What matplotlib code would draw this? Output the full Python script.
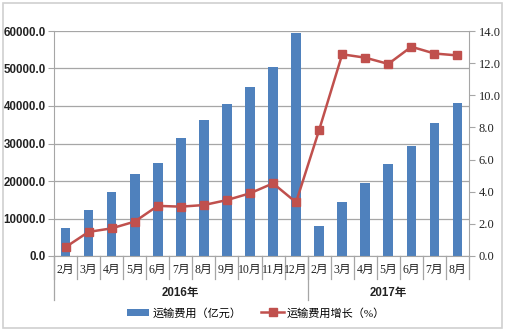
import matplotlib
matplotlib.use("Agg")
import matplotlib.pyplot as plt
import matplotlib.transforms as mtransforms
from matplotlib.patches import Rectangle
from matplotlib.ticker import FormatStrFormatter

months = ["2月", "3月", "4月", "5月", "6月", "7月", "8月", "9月", "10月", "11月", "12月",
          "2月", "3月", "4月", "5月", "6月", "7月", "8月"]
years = ["2016年", "2017年"]
year_sizes = [11, 7]

# 运输费用（亿元）
cost = [7450, 12250, 17050, 21800, 24900, 31450, 36250, 40450, 45150, 50300, 59500,
        8000, 14300, 19550, 24500, 29350, 35400, 40700]
# 运输费用增长（%）
growth = [0.55, 1.5, 1.72, 2.14, 3.12, 3.07, 3.17, 3.48, 3.9, 4.52, 3.34,
          7.84, 12.55, 12.34, 11.95, 13.02, 12.6, 12.48]

cjk = ["Liberation Serif", "Noto Sans CJK SC"]
blue = "#4F81BD"
red = "#C0504D"
gray = "#A6A6A6"

fig = plt.figure(figsize=(5.07, 3.33), dpi=100)
ax = fig.add_axes([54 / 507, 1 - 256 / 333, 415 / 507, 225 / 333])
ax2 = ax.twinx()

x = list(range(len(cost)))
bars = ax.bar(x, cost, width=0.42, color=blue, zorder=2, label="运输费用（亿元）")
line, = ax2.plot(x, growth, color=red, lw=1.8, marker="s", markersize=6,
                 zorder=3, label="运输费用增长（%）")

ax.set_xlim(-0.5, len(cost) - 0.5)
ax.set_ylim(0, 60000)
ax.set_yticks(range(0, 60001, 10000))
ax2.set_ylim(0, 14)
ax2.set_yticks(range(0, 15, 2))
ax.yaxis.set_major_formatter(FormatStrFormatter("%.1f"))
ax2.yaxis.set_major_formatter(FormatStrFormatter("%.1f"))
ax.grid(axis="y", color=gray, lw=0.9, zorder=0)
ax.set_axisbelow(True)

for a in (ax, ax2):
    a.spines["top"].set_visible(False)
    a.spines["bottom"].set_color(gray)
    a.spines["left"].set_color(gray)
    a.spines["right"].set_color(gray)
ax.spines["right"].set_visible(False)
ax2.spines["left"].set_visible(False)
ax2.spines["bottom"].set_visible(False)

ax.tick_params(axis="y", length=4, color=gray, pad=2)
ax2.tick_params(axis="y", length=4, color=gray, pad=3)
for t in ax.get_yticklabels():
    t.set_fontfamily("Liberation Sans")
    t.set_fontweight("bold")
    t.set_fontsize(8.3)
    t.set_color("#222222")
for t in ax2.get_yticklabels():
    t.set_fontfamily("Liberation Serif")
    t.set_fontsize(9)
    t.set_color("#222222")

ax.set_xticks(x)
ax.set_xticklabels([])
ax.tick_params(axis="x", length=0)

# two-level category axis
trans = mtransforms.blended_transform_factory(ax.transData, ax.transAxes)
for i, m in enumerate(months):
    ax.text(i, -0.062, m, transform=trans, ha="center", va="center",
            fontsize=8.5, family=cjk, color="#222222")
for k in range(len(months) + 1):
    ax.plot([k - 0.5, k - 0.5], [0, -0.1], transform=trans, color=gray,
            lw=0.9, clip_on=False)
start = 0
for yr, n in zip(years, year_sizes):
    ax.plot([start - 0.5, start - 0.5], [0, -0.196], transform=trans, color=gray,
            lw=0.9, clip_on=False)
    ax.text(start + (n - 1) / 2, -0.165, yr, transform=trans, ha="center",
            va="center", fontsize=8.3, family=["Liberation Sans", "Noto Sans CJK SC"],
            fontweight="bold", color="#222222")
    start += n

fig.legend([bars, line], ["运输费用（亿元）", "运输费用增长（%）"], loc="center",
           bbox_to_anchor=(0.505, 1 - 313 / 333), ncol=2, frameon=False,
           prop={"family": cjk, "size": 8}, handlelength=2.0, columnspacing=1.8,
           handletextpad=0.3)

fig.patches.append(Rectangle((3 / 507, 5 / 333), 499 / 507, 325 / 333,
                             transform=fig.transFigure, fill=False,
                             edgecolor="#D0D0D0", lw=1.2))

fig.savefig("out.png", dpi=100)
